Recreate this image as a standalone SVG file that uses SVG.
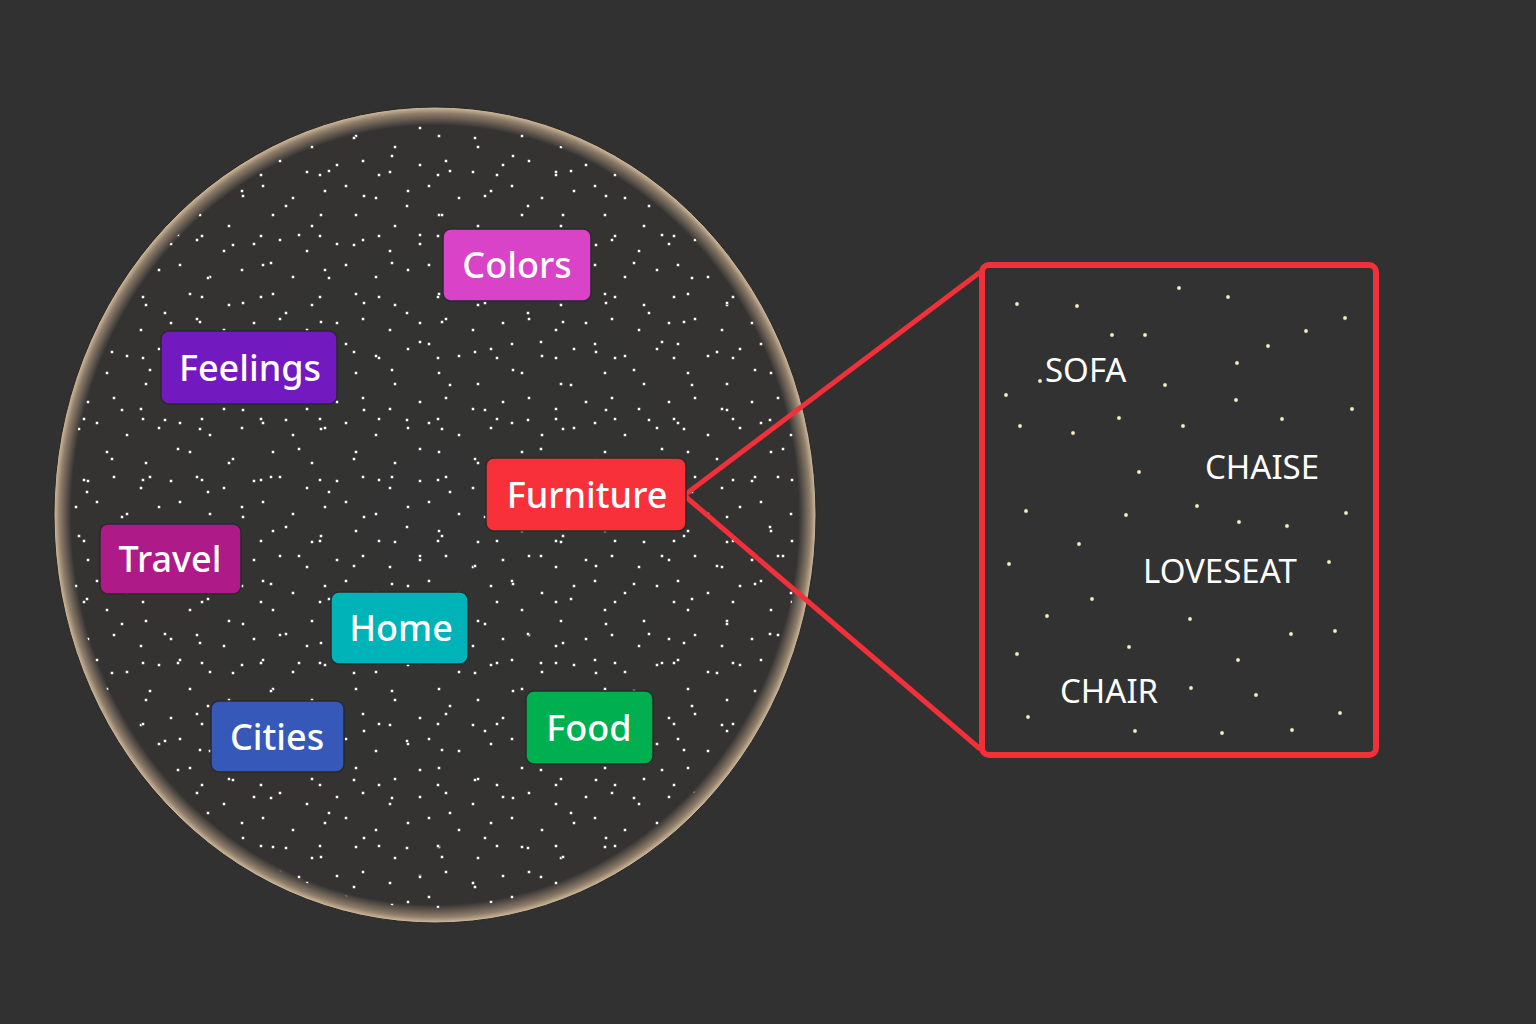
<svg xmlns="http://www.w3.org/2000/svg" width="1536" height="1024" viewBox="0 0 1536 1024">
<style>
.lbl{font-family:"Noto Sans","Open Sans","Liberation Sans",sans-serif;font-size:36px;font-weight:500;fill:#ffffff;text-anchor:middle}
.word{font-family:"Noto Sans","Open Sans","Liberation Sans",sans-serif;font-size:33px;font-weight:400;fill:#ffffff}
.box{stroke:#2a2a2a;stroke-width:1.5}
.wd{fill:#ffffff;stroke:#222;stroke-width:0.6}
.yd{fill:#f6f0c4;stroke:#222;stroke-width:0.5}
.conn{stroke:#f2303a;stroke-width:5;fill:none;stroke-linecap:round}
</style>
<defs>
<radialGradient id="rim" cx="0.5" cy="0.5" r="0.5">
<stop offset="0" stop-color="#333333"/>
<stop offset="0.955" stop-color="#343332"/>
<stop offset="0.985" stop-color="#8e7d6a"/>
<stop offset="1" stop-color="#d4bd9e"/>
</radialGradient>
<pattern id="pA" width="83" height="79" patternUnits="userSpaceOnUse">
<circle class="wd" cx="5" cy="7" r="1.8"/><circle class="wd" cx="31" cy="3" r="1.8"/><circle class="wd" cx="58" cy="14" r="1.8"/><circle class="wd" cx="76" cy="33" r="1.8"/><circle class="wd" cx="14" cy="28" r="1.8"/><circle class="wd" cx="44" cy="40" r="1.8"/><circle class="wd" cx="24" cy="57" r="1.8"/><circle class="wd" cx="63" cy="68" r="1.8"/>
</pattern>
<pattern id="pB" width="121" height="107" patternUnits="userSpaceOnUse" x="17" y="9">
<circle class="wd" cx="12" cy="40" r="1.8"/><circle class="wd" cx="40" cy="12" r="1.8"/><circle class="wd" cx="95" cy="22" r="1.8"/><circle class="wd" cx="70" cy="55" r="1.8"/><circle class="wd" cx="27" cy="90" r="1.8"/><circle class="wd" cx="105" cy="80" r="1.8"/><circle class="wd" cx="62" cy="99" r="1.8"/>
</pattern>
<pattern id="pC" width="59" height="61" patternUnits="userSpaceOnUse" x="5" y="23">
<circle class="wd" cx="20" cy="30" r="1.8"/>
</pattern>
<clipPath id="cc"><ellipse cx="435" cy="515" rx="366" ry="393"/></clipPath>
</defs>
<rect width="1536" height="1024" fill="#313131"/>
<g id="sphere">
<ellipse cx="435" cy="515" rx="381" ry="408" fill="url(#rim)" stroke="#262626" stroke-width="1"/>
<g clip-path="url(#cc)">
<rect x="50" y="100" width="780" height="830" fill="url(#pA)"/>
<rect x="50" y="100" width="780" height="830" fill="url(#pB)"/>
<rect x="50" y="100" width="780" height="830" fill="url(#pC)"/>
</g>
</g>
<g id="connectors">
<line class="conn" x1="686" y1="494" x2="979" y2="273"/>
<line class="conn" x1="686" y1="497" x2="979" y2="748"/>
</g>
<g id="node-colors"><rect class="box" x="443" y="229" width="148" height="72" rx="8" fill="#d843c8"/><text class="lbl" x="517" y="278">Colors</text></g>
<g id="node-feelings"><rect class="box" x="161" y="331" width="176" height="73" rx="8" fill="#7219c0"/><text class="lbl" x="250" y="381">Feelings</text></g>
<g id="node-furniture"><rect class="box" x="486" y="458" width="200" height="73" rx="8" fill="#f7303a"/><text class="lbl" x="587" y="508">Furniture</text></g>
<g id="node-travel"><rect class="box" x="100" y="524" width="141" height="70" rx="8" fill="#ae1a88"/><text class="lbl" x="170" y="572">Travel</text></g>
<g id="node-home"><rect class="box" x="331" y="592" width="137" height="72" rx="8" fill="#00b3b8"/><text class="lbl" x="401" y="641">Home</text></g>
<g id="node-cities"><rect class="box" x="211" y="701" width="133" height="71" rx="8" fill="#3658b8"/><text class="lbl" x="277" y="750">Cities</text></g>
<g id="node-food"><rect class="box" x="526" y="691" width="127" height="73" rx="8" fill="#00b050"/><text class="lbl" x="589" y="741">Food</text></g>
<g id="zoom-box">
<rect x="982" y="265" width="394" height="490" rx="7" fill="#323232" stroke="#f2303a" stroke-width="6"/>
<g>
<circle class="yd" cx="1017" cy="304" r="2.2"/><circle class="yd" cx="1077" cy="306" r="2.2"/><circle class="yd" cx="1179" cy="288" r="2.2"/><circle class="yd" cx="1228" cy="297" r="2.2"/><circle class="yd" cx="1345" cy="318" r="2.2"/><circle class="yd" cx="1112" cy="335" r="2.2"/><circle class="yd" cx="1145" cy="335" r="2.2"/><circle class="yd" cx="1306" cy="331" r="2.2"/><circle class="yd" cx="1268" cy="346" r="2.2"/><circle class="yd" cx="1237" cy="363" r="2.2"/><circle class="yd" cx="1040" cy="381" r="2.2"/><circle class="yd" cx="1165" cy="385" r="2.2"/><circle class="yd" cx="1006" cy="395" r="2.2"/><circle class="yd" cx="1236" cy="400" r="2.2"/><circle class="yd" cx="1352" cy="409" r="2.2"/><circle class="yd" cx="1020" cy="426" r="2.2"/><circle class="yd" cx="1073" cy="433" r="2.2"/><circle class="yd" cx="1119" cy="418" r="2.2"/><circle class="yd" cx="1183" cy="426" r="2.2"/><circle class="yd" cx="1282" cy="419" r="2.2"/><circle class="yd" cx="1139" cy="472" r="2.2"/>
<circle class="yd" cx="1026" cy="511" r="2.2"/><circle class="yd" cx="1126" cy="515" r="2.2"/><circle class="yd" cx="1197" cy="506" r="2.2"/><circle class="yd" cx="1239" cy="522" r="2.2"/><circle class="yd" cx="1287" cy="526" r="2.2"/><circle class="yd" cx="1346" cy="513" r="2.2"/><circle class="yd" cx="1079" cy="544" r="2.2"/><circle class="yd" cx="1009" cy="564" r="2.2"/><circle class="yd" cx="1329" cy="562" r="2.2"/><circle class="yd" cx="1092" cy="599" r="2.2"/><circle class="yd" cx="1047" cy="616" r="2.2"/><circle class="yd" cx="1190" cy="619" r="2.2"/><circle class="yd" cx="1291" cy="634" r="2.2"/><circle class="yd" cx="1335" cy="631" r="2.2"/><circle class="yd" cx="1017" cy="654" r="2.2"/><circle class="yd" cx="1129" cy="647" r="2.2"/><circle class="yd" cx="1238" cy="660" r="2.2"/><circle class="yd" cx="1191" cy="688" r="2.2"/><circle class="yd" cx="1256" cy="695" r="2.2"/><circle class="yd" cx="1340" cy="713" r="2.2"/><circle class="yd" cx="1028" cy="717" r="2.2"/><circle class="yd" cx="1135" cy="731" r="2.2"/><circle class="yd" cx="1222" cy="733" r="2.2"/><circle class="yd" cx="1292" cy="730" r="2.2"/>
</g>
<text class="word" x="1045" y="382">SOFA</text>
<text class="word" x="1205" y="479">CHAISE</text>
<text class="word" x="1143" y="583">LOVESEAT</text>
<text class="word" x="1060" y="703">CHAIR</text>
</g>
</svg>
